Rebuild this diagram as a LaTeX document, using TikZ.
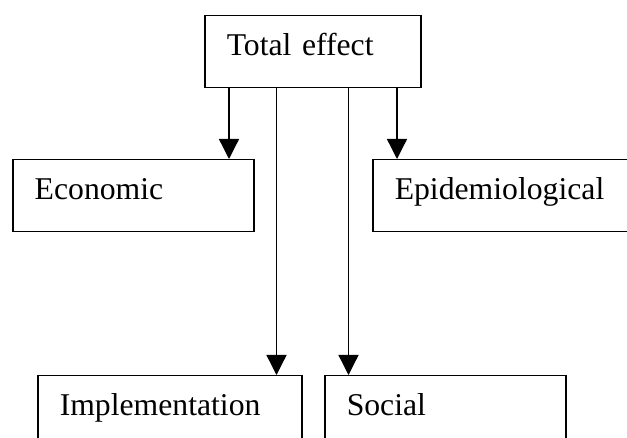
\documentclass[tikz,border=0pt]{standalone}
\usepackage{fontspec}
\setmainfont{Liberation Serif}
\usetikzlibrary{positioning, arrows.meta, calc}

\begin{document}
\begin{tikzpicture}[
  box/.style={draw, line width=0.75pt, anchor=north west, align=left,
              inner xsep=11pt, inner ysep=0pt,
              text height=20pt, text depth=16pt,
              font=\fontsize{15.85pt}{19pt}\selectfont},
  ar/.style={-{Triangle[length=10pt,width=10pt]}, line width=0.65pt},
]
  \clip (0,0) rectangle (313.5pt,-219pt);

  \node[box, text width=86pt] (total) at (102pt,-7.5pt) {Total effect};
  \node[box, text width=98.5pt] (econ) at (6pt,-79.5pt) {Economic};
  \node[box, text width=108pt] (epi) at (186pt,-79.5pt) {Epidemiological};
  \node[box, text width=110pt] (impl) at (18.5pt,-187.5pt) {Implementation};
  \node[box, text width=98.5pt] (soc) at (162pt,-187.5pt) {Social};

  % feet of the four connectors
  \coordinate (t1) at ([xshift=12.5pt]total.south west);
  \coordinate (t2) at ([xshift=36.25pt]total.south west);
  \coordinate (t3) at ([xshift=72.25pt]total.south west);
  \coordinate (t4) at ([xshift=96.5pt]total.south west);

  \draw[ar] (t1) -- (t1 |- econ.north);
  \draw[ar] (t2) -- (t2 |- impl.north);
  \draw[ar] (t3) -- (t3 |- soc.north);
  \draw[ar] (t4) -- (t4 |- epi.north);
\end{tikzpicture}
\end{document}
